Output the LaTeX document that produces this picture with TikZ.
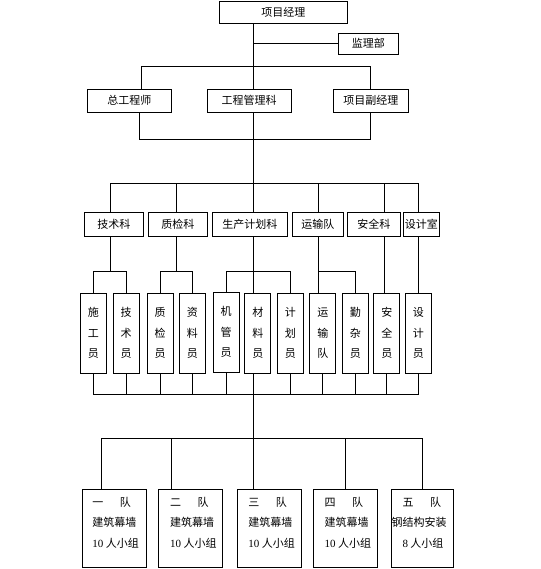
\documentclass[tikz,border=0pt]{standalone}
\usepackage{fontspec}
\setmainfont{Liberation Serif}
\newfontfamily\cjk{Noto Sans CJK SC}

\tikzset{
	box/.style={draw, line width=.8pt, inner sep=1pt, font=\cjk\fontsize{11}{13}\selectfont},
	hbox/.style={box, minimum height=23pt},
	vbox/.style={box, minimum width=26pt, minimum height=80pt, align=center, font=\cjk\fontsize{11}{20.5}\selectfont},
	team/.style={box, minimum width=64pt, minimum height=78pt},
	teamtext/.style={anchor=west, align=left, inner sep=0pt, font=\cjk\fontsize{11}{20.5}\selectfont},
	conn/.style={line width=.8pt}
}

\begin{document}
\begin{tikzpicture}[x=1pt,y=-1pt]
	\useasboundingbox (0,0) rectangle (540,569);

	\node 	(pm)	at	(283.3,12.3) 	[hbox, minimum width=128pt, minimum height=22pt]{项目经理};
	\node 	(jl)	at	(368.3,43.7) 	[hbox, minimum width=60pt, minimum height=21pt]{监理部};

	\node 	(zgcs)	at	(129.3,100.8) 	[hbox, minimum width=84pt]{总工程师};
	\node 	(gcgl)	at	(249.2,100.8) 	[hbox, minimum width=84pt]{工程管理科};
	\node 	(fjl)	at	(370.8,100.8) 	[hbox, minimum width=75pt]{项目副经理};

	\node 	(jsk)	at	(113.8,224.3) 	[hbox, minimum width=59pt, minimum height=24pt]{技术科};
	\node 	(zjk)	at	(177.8,224.3) 	[hbox, minimum width=59pt, minimum height=24pt]{质检科};
	\node 	(sck)	at	(249.8,224.3) 	[hbox, minimum width=75pt, minimum height=24pt]{生产计划科};
	\node 	(ysd)	at	(317.8,224.3) 	[hbox, minimum width=51pt, minimum height=24pt]{运输队};
	\node 	(aqk)	at	(373.8,224.3) 	[hbox, minimum width=53pt, minimum height=24pt]{安全科};
	\node 	(sjs)	at	(421.3,224.3) 	[hbox, minimum width=36pt, minimum height=24pt]{设计室};

	\node 	(sgy)	at	(93.3,333.3) 	[vbox]{施\\工\\员};
	\node 	(jsy)	at	(126,333.3) 	[vbox]{技\\术\\员};
	\node 	(zjy)	at	(160,333.3) 	[vbox]{质\\检\\员};
	\node 	(zly)	at	(192.3,333.3) 	[vbox]{资\\料\\员};
	\node 	(jgy)	at	(226,332.3) 	[vbox]{机\\管\\员};
	\node 	(cly)	at	(257.8,333.3) 	[vbox]{材\\料\\员};
	\node 	(jhy)	at	(290.3,333.3) 	[vbox]{计\\划\\员};
	\node 	(ysdy)	at	(322.8,333.3) 	[vbox]{运\\输\\队};
	\node 	(qzy)	at	(355.3,333.3) 	[vbox]{勤\\杂\\员};
	\node 	(aqy)	at	(386.8,333.3) 	[vbox]{安\\全\\员};
	\node 	(sjy)	at	(418.3,333.3) 	[vbox]{设\\计\\员};

	\node 	(d1)	at	(114,528.4) 	[team]{};
	\node 	(d2)	at	(190.3,528.4) 	[team]{};
	\node 	(d3)	at	(269,528.4) 	[team]{};
	\node 	(d4)	at	(345.3,528.4) 	[team]{};
	\node 	(d5)	at	(422.2,528.4) 	[team, minimum width=62pt]{};

	\node 	(d1t)	at	([xshift=10.5pt,yshift=5.7pt]d1.west) 	[teamtext]{一\hspace{1.5em}队\\建筑幕墙\\{\rmfamily 10} 人小组};
	\node 	(d2t)	at	([xshift=12pt,yshift=5.7pt]d2.west) 	[teamtext]{二\hspace{1.5em}队\\建筑幕墙\\{\rmfamily 10} 人小组};
	\node 	(d3t)	at	([xshift=11.5pt,yshift=5.7pt]d3.west) 	[teamtext]{三\hspace{1.5em}队\\建筑幕墙\\{\rmfamily 10} 人小组};
	\node 	(d4t)	at	([xshift=11.5pt,yshift=5.7pt]d4.west) 	[teamtext]{四\hspace{1.5em}队\\建筑幕墙\\{\rmfamily 10} 人小组};
	\node 	(d5t)	at	([xshift=11.5pt,yshift=5.7pt]d5.west) 	[teamtext]{五\hspace{1.5em}队\\\hspace*{-11pt}钢结构安装\\{\rmfamily 8} 人小组};

% columns and bus lines
	\coordinate (trunk)	at	(253.5,0);
	\coordinate (cjs)	at	(110,0);
	\coordinate (czj)	at	(176,0);
	\coordinate (cys)	at	(318.3,0);
	\coordinate (caq)	at	(384.3,0);
	\coordinate (csj)	at	(418.3,0);
	\coordinate (bus1)	at	(0,66.3);
	\coordinate (bus2)	at	(0,139);
	\coordinate (bus3)	at	(0,183.3);
	\coordinate (bus4)	at	(0,271);
	\coordinate (bus5)	at	(0,394.3);
	\coordinate (bus6)	at	(0,438.7);

	\draw[conn] (pm.south -| trunk) -- (gcgl.north -| trunk);
	\draw[conn] (jl.west -| trunk) -- (jl.west);
	\draw[conn] ([xshift=12.4pt]zgcs.north) |- (bus1 -| fjl.north) -- (fjl.north);
	\draw[conn] ([xshift=10pt]zgcs.south) |- (bus2 -| fjl.south) -- (fjl.south);
	\draw[conn] (gcgl.south -| trunk) -- (sck.north -| trunk);

	\draw[conn] (jsk.north -| cjs) |- (bus3 -| csj) -- (sjs.north -| csj);
	\draw[conn] (zjk.north -| czj) -- (bus3 -| czj);
	\draw[conn] (ysd.north -| cys) -- (bus3 -| cys);
	\draw[conn] (aqk.north -| caq) -- (bus3 -| caq);

	\draw[conn] (jsk.south -| cjs) -- (bus4 -| cjs);
	\draw[conn] (sgy.north) |- (bus4 -| jsy.north) -- (jsy.north);
	\draw[conn] (zjk.south -| czj) -- (bus4 -| czj);
	\draw[conn] (zjy.north) |- (bus4 -| zly.north) -- (zly.north);
	\draw[conn] (sck.south -| trunk) -- (cly.north -| trunk);
	\draw[conn] (jgy.north) |- (bus4 -| jhy.north) -- (jhy.north);
	\draw[conn] (ysd.south -| cys) -- (ysdy.north -| cys);
	\draw[conn] (bus4 -| cys) -| (qzy.north);
	\draw[conn] (aqk.south -| caq) -- (aqy.north -| caq);
	\draw[conn] (sjs.south -| csj) -- (sjy.north -| csj);

	\draw[conn] (sgy.south) |- (bus5 -| sjy.south) -- (sjy.south);
	\foreach \n in {jsy,zjy,zly,jgy,jhy,ysdy,qzy,aqy}
		\draw[conn] (\n.south) -- (\n.south |- bus5);
	\draw[conn] (cly.south -| trunk) -- (bus6 -| trunk);

	\draw[conn] ([xshift=-12.7pt]d1.north) |- (bus6 -| d5.north) -- (d5.north);
	\draw[conn] ([xshift=-19pt]d2.north) -- ++(0,-50.6);
	\draw[conn] (d3.north -| trunk) -- (bus6 -| trunk);
	\draw[conn] (d4.north) -- (d4.north |- bus6);

\end{tikzpicture}
\end{document}
